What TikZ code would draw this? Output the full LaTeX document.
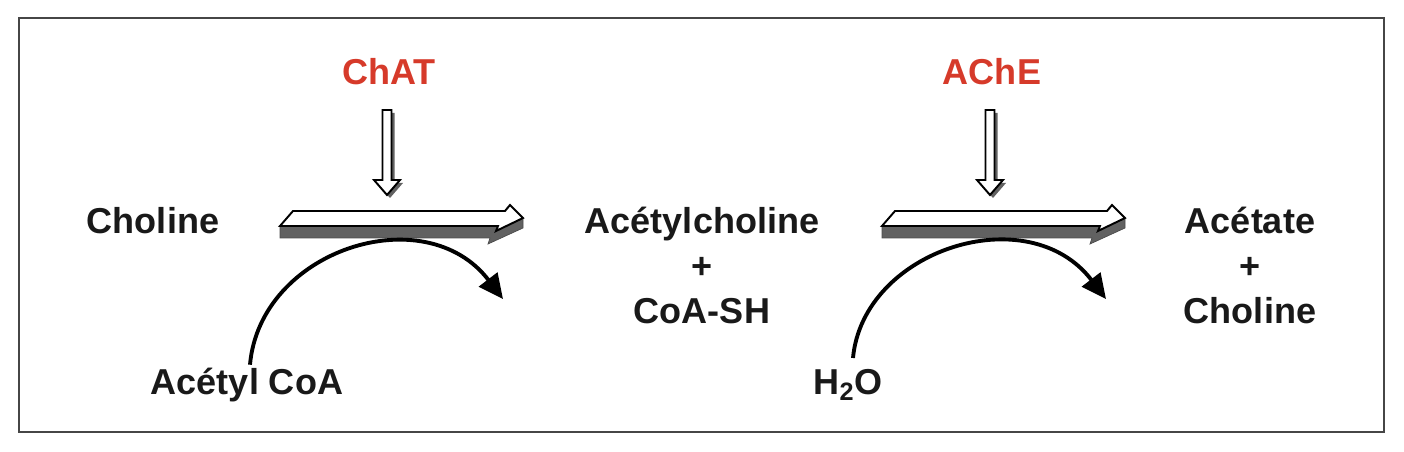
\documentclass[tikz,border=0pt]{standalone}
\usepackage{fontspec}
\setmainfont{Liberation Sans}
\usepackage{xcolor}
\usetikzlibrary{arrows.meta,calc,positioning}
\definecolor{enzred}{RGB}{214,58,42}
\definecolor{framegray}{RGB}{70,70,70}
\tikzset{
  chem/.style={font=\fontsize{20.5}{24}\selectfont\bfseries, text=black!90, anchor=base, inner sep=2pt},
  enz/.style={chem, text=enzred},
  curvearr/.style={line width=2.2pt, -{Triangle[length=14pt,width=13pt]}},
  shade3d/.style={fill=black!62, draw=black!70, line width=0.4pt},
  face3d/.style={fill=white, draw=black, line width=1.1pt, line join=miter}
}
% hollow down arrow below an enzyme, #1 = x of its axis
\newcommand{\downarr}[1]{%
  \begin{scope}[shift={(#1,0)}]
    \fill[black!62] (-1.5,113) -- (7.5,113) -- (7.5,183) -- (16,183) -- (3,198) -- (-10,183) -- (-1.5,183) -- cycle;
    \draw[face3d] (-4.5,110) -- (4.5,110) -- (4.5,180) -- (13,180) -- (0,195) -- (-13,180) -- (-4.5,180) -- cycle;
  \end{scope}}
% flat 3d reaction arrow, #1 = x of its left end
\newcommand{\flatarr}[1]{%
  \begin{scope}[shift={(#1,226)}]
    \draw[shade3d] (0,0) -- (0,12) -- (210,12) -- (208,18) -- (243,2) -- (243,-8) -- (216,0) -- cycle;
    \draw[face3d] (0,0) -- (13,-15) -- (225,-15) -- (230,-21) -- (243,-8) -- (216,5) -- (218,0) -- cycle;
  \end{scope}}
\begin{document}
\begin{tikzpicture}[x=0.02cm,y=-0.02cm]
  \useasboundingbox (0,0) rectangle (1404,452);
  % Draw the frame
  \draw[framegray, line width=1.2pt] (19,18) rectangle (1384,432);
  % Enzymes
  \node[enz] (chat) at (389,85) {ChAT};
  \node[enz] (ache) at (992,85) {AChE};
  % Compounds
  \node[chem] (chol) at (153,234) {Choline};
  \node[chem] (ach) at (702,234) {Acétylcholine};
  \node[chem] (plus1) at (702,279) {+};
  \node[chem] (coash) at (702,324) {CoA-SH};
  \node[chem] (acet) at (1250,234) {Acétate};
  \node[chem] (plus2) at (1250,279) {+};
  \node[chem] (chol2) at (1250,324) {Choline};
  \node[chem] (acoa) at (247,395) {Acétyl CoA};
  \node[chem] (water) at (848,395) {H\textsubscript{2}O};
  % Draw the arrows
  \downarr{387}
  \downarr{990}
  \flatarr{280}
  \flatarr{882}
  \coordinate (c1end) at (503,299);
  \coordinate (c2end) at (1106,299);
  \draw[curvearr] ($(acoa.north)+(3,0)$) .. controls (260,250) and (425,197) .. (c1end);
  \draw[curvearr] ($(water.north)+(5,-8)$) .. controls (863,250) and (1028,197) .. (c2end);
\end{tikzpicture}
\end{document}
